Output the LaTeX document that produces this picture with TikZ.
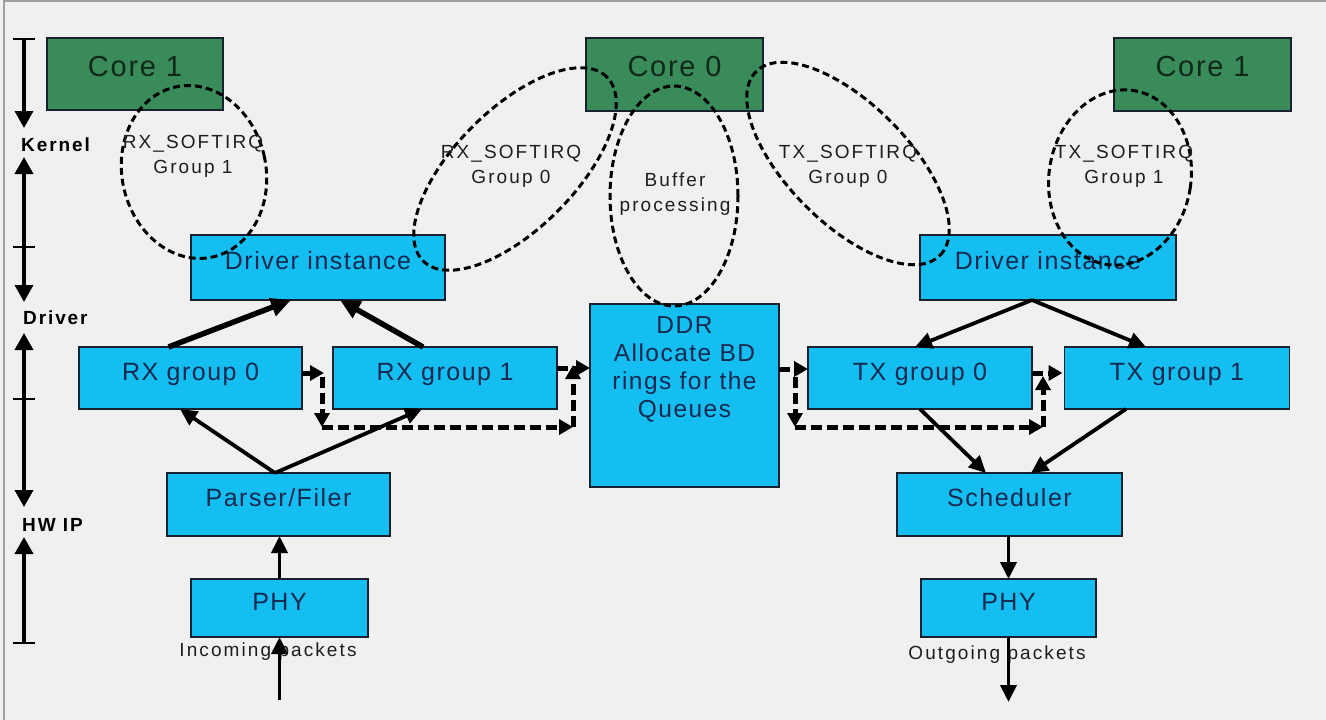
\documentclass[tikz,border=0pt]{standalone}
\usepackage{fontspec}
\setmainfont{Liberation Sans}
\newfontfamily\lblfont{Liberation Sans}[LetterSpace=6]
\newfontfamily\smfont{Liberation Sans}[LetterSpace=11]
\newfontfamily\axfont{Liberation Sans}[LetterSpace=10]
\usetikzlibrary{arrows.meta}
\definecolor{bgc}{HTML}{F0F0F0}
\definecolor{cyanbox}{HTML}{14BEF0}
\definecolor{greenbox}{HTML}{3A8B5A}
\definecolor{boxtext}{HTML}{142850}
\definecolor{coretext}{HTML}{10281A}
\definecolor{framec}{HTML}{A0A0A0}
\definecolor{edgec}{HTML}{18222E}
\definecolor{lbltext}{HTML}{1E1E1E}
\tikzset{axtip/.tip={Triangle[length=17pt,width=18pt]}}
\begin{document}
\begin{tikzpicture}[x=1pt,y=-1pt,
  box/.style={draw=edgec, line width=1.6pt, fill=cyanbox, inner sep=0pt, outer sep=0pt,
    text=boxtext, font=\lblfont\fontsize{25}{28}\selectfont, text height=14pt, text depth=10pt},
  corebox/.style={box, fill=greenbox, text=coretext, font=\lblfont\fontsize{29}{32}\selectfont,
    text height=16pt, text depth=12pt},
  sarrow/.style={line width=3.8pt, -{Triangle[length=17pt,width=16pt]}},
  tarrow/.style={line width=5.5pt, -{Triangle[length=20pt,width=18pt]}},
  darrow/.style={line width=5pt, dash pattern=on 11pt off 5pt, -{Triangle[length=14pt,width=15pt]}},
  softirq/.style={line width=3pt, dash pattern=on 7pt off 4pt},
  lbl/.style={align=center, font=\smfont\fontsize{19}{25}\selectfont, text=lbltext, inner sep=0pt},
  axlbl/.style={font=\axfont\bfseries\fontsize{19}{20}\selectfont, anchor=west, inner sep=0pt},
  axisline/.style={line width=3.6pt},
  tick/.style={line width=2.2pt}
]
\useasboundingbox (0,0) rectangle (1326,720);
\fill[bgc] (0,0) rectangle (1326,720);
\draw[framec, line width=1.2pt] (4,720) -- (4,1) -- (1326,1);

% ---- left axis ----
\coordinate (ax0) at (24,39);
\coordinate (ax1) at (24,128);
\coordinate (ax2) at (24,157);
\coordinate (ax3) at (24,302);
\coordinate (ax4) at (24,333);
\coordinate (ax5) at (24,507);
\coordinate (ax6) at (24,537);
\coordinate (ax7) at (24,643);
\draw[axisline, -{axtip}] (ax0) -- (ax1);
\draw[axisline, {axtip}-{axtip}] (ax2) -- (ax3);
\draw[axisline, {axtip}-{axtip}] (ax4) -- (ax5);
\draw[axisline, {axtip}-] (ax6) -- (ax7);
\foreach \yy in {39,247,399,643} \draw[tick] (13,\yy) -- (35,\yy);
\node[axlbl] (kernel) at (21,145) {Kernel};
\node[axlbl] (driver) at (23,318) {Driver};
\node[axlbl] (hwip) at (22,525) {HW IP};

% ---- boxes ----
\node[corebox, minimum width=176pt, minimum height=72pt] (core1L) at (135,74) {Core 1};
\node[corebox, minimum width=177pt, minimum height=73pt] (core0) at (674.5,74.5) {Core 0};
\node[corebox, minimum width=177pt, minimum height=73pt] (core1R) at (1202.5,74.5) {Core 1};
\node[box, minimum width=254pt, minimum height=65pt] (drvL) at (318,267.5) {Driver instance};
\node[box, minimum width=256pt, minimum height=65pt] (drvR) at (1048,267.5) {Driver instance};
\node[box, minimum width=223pt, minimum height=62pt] (rx0) at (190.5,378) {RX group 0};
\node[box, minimum width=224pt, minimum height=62pt] (rx1) at (445,378) {RX group 1};
\node[box, minimum width=224pt, minimum height=62pt] (tx0) at (920,378) {TX group 0};
\node[box, minimum width=225pt, minimum height=62pt] (tx1) at (1177,378) {TX group 1};
\node[box, minimum width=189pt, minimum height=183pt] (ddr) at (684.5,395.5) {};
\node[align=center, anchor=north, inner sep=0pt, text=boxtext,
      font=\lblfont\fontsize{24.5}{28}\selectfont] (ddrtext) at (684.5,316) {DDR\\Allocate BD\\rings for the\\Queues};
\node[box, minimum width=223pt, minimum height=63pt] (parser) at (278.5,504.5) {Parser/Filer};
\node[box, minimum width=177pt, minimum height=58pt] (phyL) at (279.5,608) {PHY};
\node[box, minimum width=225pt, minimum height=63pt] (sched) at (1009.5,504.5) {Scheduler};
\node[box, minimum width=175pt, minimum height=58pt] (phyR) at (1008.5,608) {PHY};

% ---- softirq ellipses ----
\draw[softirq, rotate around={12:(194,172)}] (194,172) ellipse [x radius=72pt, y radius=87pt];
\draw[softirq, rotate around={45:(515,169)}] (515,169) ellipse [x radius=130pt, y radius=60pt];
\draw[softirq] (674,196) ellipse [x radius=64pt, y radius=110pt];
\draw[softirq, rotate around={-45:(848,163.5)}] (848,163.5) ellipse [x radius=130pt, y radius=60pt];
\draw[softirq, rotate around={-9:(1120,177.5)}] (1120,177.5) ellipse [x radius=71pt, y radius=88pt];

\node[lbl] (t1) at (193,156) {RX\_SOFTIRQ\\Group 1};
\node[lbl] (t2) at (511,166) {RX\_SOFTIRQ\\Group 0};
\node[lbl] (t3) at (675,194) {Buffer\\processing};
\node[lbl] (t4) at (848,166) {TX\_SOFTIRQ\\Group 0};
\node[lbl] (t5) at (1124,166) {TX\_SOFTIRQ\\Group 1};
\node[lbl] (inc) at (268,652) {Incoming packets};
\node[lbl] (outg) at (997,655) {Outgoing packets};

% ---- solid connectors ----
\draw[tarrow] ([xshift=-22pt]rx0.north) -- ([xshift=-27pt]drvL.south);
\draw[tarrow] ([xshift=-22pt]rx1.north) -- ([xshift=22pt]drvL.south);
\draw[sarrow] ([xshift=-3.5pt]parser.north) -- ([xshift=-10.5pt]rx0.south);
\draw[sarrow] ([xshift=-3.5pt]parser.north) -- ([xshift=-23pt]rx1.south);
\draw[sarrow] (phyL.north) -- (phyL.north |- parser.south);
\coordinate (inS) at (279.5,700);
\draw[sarrow] (inS) -- (phyL.south);
\draw[sarrow] ([xshift=-16pt]drvR.south) -- ([xshift=-5pt]tx0.north);
\draw[sarrow] ([xshift=-16pt]drvR.south) -- ([xshift=-31pt]tx1.north);
\draw[sarrow] (tx0.south) -- ([xshift=-23.5pt]sched.north);
\draw[sarrow] ([xshift=-51pt]tx1.south) -- ([xshift=21.5pt]sched.north);
\draw[sarrow] (sched.south -| phyR.north) -- (phyR.north);
\coordinate (outE) at (1008.5,702);
\draw[sarrow] (phyR.south) -- (outE);

% ---- dashed connectors, RX side ----
\coordinate (l1) at (322,377);
\coordinate (l2) at (322,427);
\coordinate (l3) at (573,427);
\coordinate (l4) at (573,365);
\draw[darrow, shorten >=9pt] ([yshift=5pt]rx0.east) -- ([yshift=5pt]rx1.west);
\draw[darrow] (l1) -- (l2);
\draw[darrow] (l2) -- (l3);
\draw[darrow] (l3) -- (l4);
\draw[darrow] ([yshift=10pt]rx1.east) -- ([yshift=10pt]rx1.east -| ddr.west);

% ---- dashed connectors, TX side ----
\coordinate (r1) at (795,377);
\coordinate (r2) at (795,427);
\coordinate (r3) at (1043,427);
\coordinate (r4) at (1043,376);
\draw[darrow] ([yshift=9pt]tx0.west -| ddr.east) -- ([yshift=9pt]tx0.west);
\draw[darrow] (r1) -- (r2);
\draw[darrow] (r2) -- (r3);
\draw[darrow] (r3) -- (r4);
\draw[darrow, shorten >=2pt] ([yshift=5pt]tx0.east) -- ([yshift=5pt]tx1.west);
\end{tikzpicture}
\end{document}
